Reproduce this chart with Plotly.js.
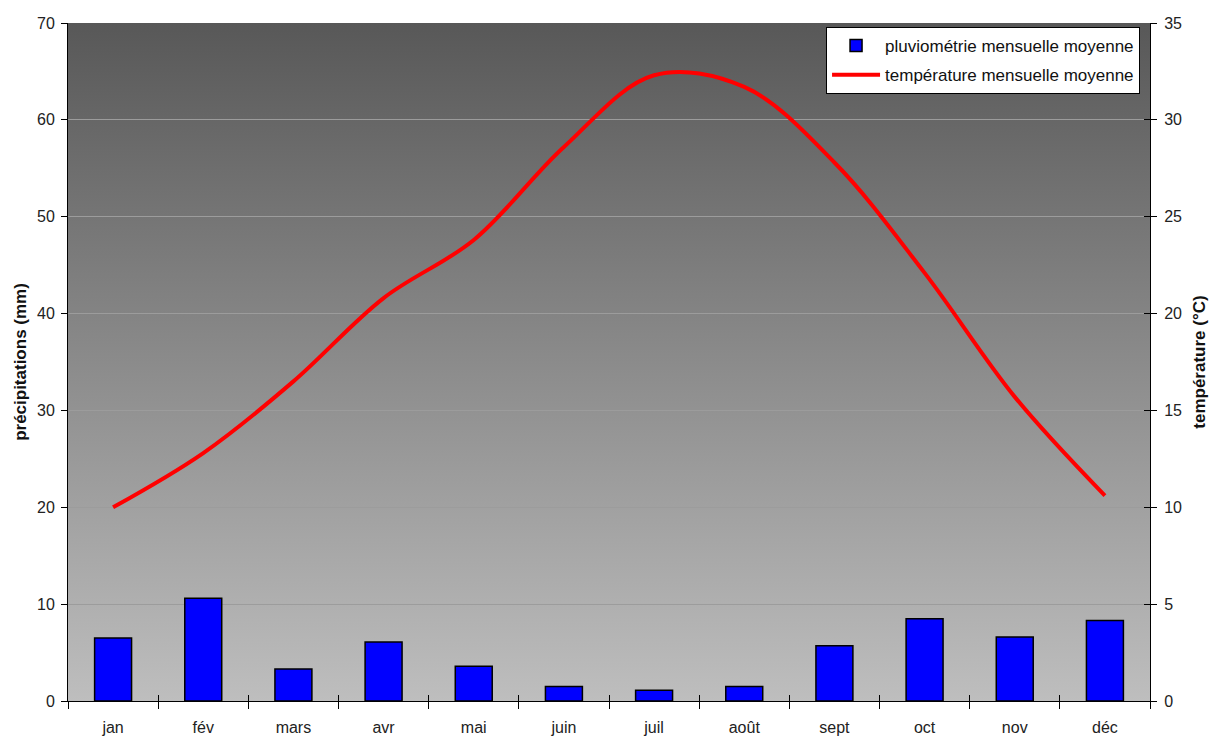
<!DOCTYPE html>
<html>
<head>
<meta charset="utf-8">
<script src="https://cdn.plot.ly/plotly-3.0.1.min.js"></script>
<style>
html,body{margin:0;padding:0;background:#fff;}
#chart{width:1210px;height:738px;}
</style>
</head>
<body>
<div id="chart"></div>
<script>
var months = ['jan','fév','mars','avr','mai','juin','juil','août','sept','oct','nov','déc'];
var rainfall = [6.5, 10.6, 3.3, 6.1, 3.6, 1.5, 1.1, 1.5, 5.7, 8.5, 6.6, 8.3];
var temperature = [10.0, 12.8, 16.5, 20.8, 23.8, 28.6, 32.3, 31.7, 27.8, 22.1, 15.7, 10.6];
var rainName = 'pluviométrie mensuelle moyenne';
var tempName = 'température mensuelle moyenne';

var svg = '<svg xmlns="http://www.w3.org/2000/svg" width="100" height="100" preserveAspectRatio="none">' +
  '<defs><linearGradient id="g" x1="0" y1="0" x2="0" y2="1">' +
  '<stop offset="0" stop-color="#585858"/><stop offset="1" stop-color="#bebebe"/>' +
  '</linearGradient></defs><rect width="100" height="100" fill="url(#g)"/></svg>';
var bgUri = 'data:image/svg+xml;charset=utf-8,' + encodeURIComponent(svg);

var fontFam = '"Liberation Sans", Arial, sans-serif';

var traces = [
  {
    type: 'bar', x: months, y: rainfall, name: rainName,
    marker: {color: '#0000ff', line: {color: '#000000', width: 1.5}},
    width: 0.41, legendgroup: 'a', yaxis: 'y'
  },
  {
    type: 'scatter', mode: 'lines', x: months, y: temperature, name: tempName,
    line: {color: '#ff0000', width: 4, shape: 'spline', smoothing: 1},
    legendgroup: 'b', yaxis: 'y2'
  },
  // invisible helpers so the inner halves of the crossing ticks get drawn
  {type: 'scatter', mode: 'none', x: months, y: rainfall, xaxis: 'x2', yaxis: 'y', showlegend: false, hoverinfo: 'skip'},
  {type: 'scatter', mode: 'none', x: months, y: temperature, xaxis: 'x', yaxis: 'y3', showlegend: false, hoverinfo: 'skip'}
];

var layout = {
  width: 1210, height: 738,
  margin: {l: 68, r: 60, t: 23, b: 37},
  paper_bgcolor: '#ffffff',
  plot_bgcolor: 'rgba(0,0,0,0)',
  font: {family: fontFam, size: 16, color: '#222222'},
  showlegend: true,
  legend: {
    x: 0.7006, y: 0.994, xanchor: 'left', yanchor: 'top',
    bgcolor: '#ffffff', bordercolor: '#000000', borderwidth: 1,
    font: {family: fontFam, size: 17, color: '#111111'},
    traceorder: 'grouped', tracegroupgap: 4, itemwidth: 48
  },
  xaxis: {
    type: 'category', categoryorder: 'array', categoryarray: months,
    range: [-0.5, 11.5],
    showline: true, linecolor: '#000000', linewidth: 1,
    ticks: 'outside', ticklen: 7, tickcolor: '#000000', tickson: 'boundaries',
    ticklabelstandoff: 12,
    showgrid: false, zeroline: false,
    tickfont: {family: fontFam, size: 16, color: '#222222'}
  },
  xaxis2: {
    type: 'category', categoryorder: 'array', categoryarray: months,
    range: [-0.5, 11.5], overlaying: 'x', side: 'bottom',
    showline: false, ticks: 'inside', ticklen: 6, tickcolor: '#000000', tickson: 'boundaries',
    showticklabels: false, showgrid: false, zeroline: false
  },
  yaxis: {
    range: [0, 70], dtick: 10, tick0: 0,
    showline: true, linecolor: '#000000', linewidth: 1,
    ticks: 'outside', ticklen: 6, tickcolor: '#000000',
    ticklabelstandoff: 3,
    showgrid: true, gridcolor: '#9c9c9c', gridwidth: 1,
    zeroline: false,
    tickfont: {family: fontFam, size: 16, color: '#222222'},
    title: {text: 'précipitations (mm)', font: {family: fontFam, size: 17, color: '#111111', weight: 'bold'}, standoff: 6}
  },
  yaxis2: {
    overlaying: 'y', side: 'right',
    range: [0, 35], dtick: 5, tick0: 0,
    showline: true, linecolor: '#000000', linewidth: 1,
    ticks: 'outside', ticklen: 6, tickcolor: '#000000',
    ticklabelstandoff: 4,
    showgrid: false, zeroline: false,
    tickfont: {family: fontFam, size: 16, color: '#222222'},
    title: {text: 'température (°C)', font: {family: fontFam, size: 17, color: '#111111', weight: 'bold'}, standoff: 12}
  },
  yaxis3: {
    overlaying: 'y', side: 'right',
    range: [0, 35], dtick: 5, tick0: 0,
    showline: false, ticks: 'inside', ticklen: 6, tickcolor: '#000000',
    showticklabels: false, showgrid: false, zeroline: false
  },
  images: [{
    source: bgUri, xref: 'paper', yref: 'paper', x: 0, y: 1,
    sizex: 1, sizey: 1, sizing: 'stretch', xanchor: 'left', yanchor: 'top',
    layer: 'below', opacity: 1
  }]
};

Plotly.newPlot('chart', traces, layout, {displayModeBar: false, staticPlot: true});
</script>
</body>
</html>
